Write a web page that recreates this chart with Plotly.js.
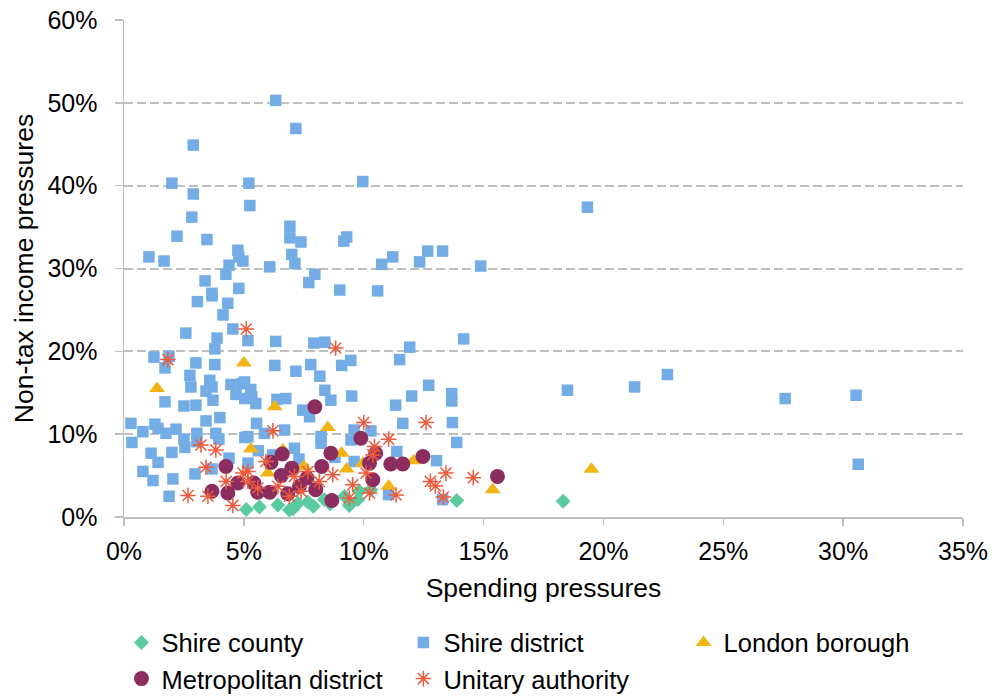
<!DOCTYPE html>
<html>
<head>
<meta charset="utf-8">
<script src="https://cdn.plot.ly/plotly-3.0.1.min.js"></script>
<style>html,body{margin:0;padding:0;background:#fff}#chart{width:995px;height:697px}</style>
</head>
<body>
<div id="chart"></div>
<script>
// Values in percent
var shireCountyX = [5.1, 5.65, 6.42, 6.9, 7.05, 7.25, 7.67, 7.9, 8.36, 8.6, 9.2, 9.4, 9.76, 9.82, 10.3, 13.88, 18.32];
var shireCountyY = [0.9, 1.2, 1.45, 0.85, 1.0, 1.65, 1.8, 1.3, 2.1, 1.6, 2.5, 1.4, 2.1, 3.1, 3.3, 2.0, 1.9];

var shireDistrictX = [6.33, 7.17, 2.89, 2.0, 5.21, 2.89, 5.25, 2.83, 6.92, 2.21, 3.46, 6.92, 7.38, 1.04, 1.67, 4.75, 4.79, 4.96, 7.0, 7.13, 4.38, 6.08, 4.25, 7.96, 7.71, 3.38, 4.79, 3.67,
  9.96, 9.29, 9.17, 11.21, 10.75, 12.33, 12.67, 13.29, 14.88, 9.0, 10.58,
  3.06, 3.67, 4.33, 4.13, 4.54, 2.58, 3.88, 3.79, 5.17, 1.25, 1.71, 3.0, 3.79, 2.75, 2.79, 3.58, 3.67, 3.42, 3.71, 1.71, 2.5, 3.0, 4.46, 4.67, 4.92, 5.04, 1.88,
  6.33, 7.92, 8.38, 6.29, 7.17, 7.79, 8.17, 9.08, 9.46, 8.38, 8.63, 9.5, 6.75, 6.38, 5.29, 5.33, 5.5, 5.03,
  11.92, 14.17, 11.5, 12.71, 12.0, 13.67, 13.67, 11.33,
  0.29, 0.79, 1.29, 1.42, 1.75, 2.17, 0.33, 2.5, 2.54, 2.0, 3.04, 3.04, 3.42, 4.0, 3.83, 3.96, 5.04, 1.13, 1.42, 0.79, 1.21, 2.04, 1.88, 2.96, 3.67, 4.38,
  7.74, 7.46, 5.17, 5.86, 6.7, 8.22, 8.22, 9.47, 9.6, 7.11, 5.53, 5.17, 9.6,
  11.63, 13.7, 13.88, 11.38, 13.04, 13.29, 11.04, 10.3, 6.2, 7.3, 8.8, 5.6,
  19.33, 18.5, 21.3, 22.67, 27.58, 30.54, 30.63];
var shireDistrictY = [50.3, 46.9, 44.9, 40.3, 40.3, 39.0, 37.6, 36.2, 35.1, 33.9, 33.5, 33.7, 33.2, 31.4, 30.9, 32.2, 31.4, 30.9, 31.7, 30.6, 30.4, 30.2, 29.3, 29.3, 28.3, 28.5, 27.6, 27.0,
  40.5, 33.8, 33.3, 31.4, 30.5, 30.8, 32.1, 32.1, 30.3, 27.4, 27.3,
  26.0, 26.7, 25.8, 24.4, 22.7, 22.2, 21.6, 20.3, 21.3, 19.3, 18.0, 18.6, 18.4, 17.1, 15.7, 16.5, 15.7, 15.2, 14.1, 13.9, 13.4, 13.5, 16.0, 14.8, 16.1, 14.3, 19.4,
  21.2, 21.0, 21.1, 18.3, 17.6, 18.4, 17.0, 18.3, 18.9, 15.3, 14.1, 14.6, 14.3, 14.2, 15.4, 14.5, 13.7, 16.3,
  20.5, 21.5, 19.0, 15.9, 14.6, 14.9, 14.0, 13.5,
  11.3, 10.3, 11.2, 10.7, 10.1, 10.6, 9.0, 9.4, 8.4, 7.8, 10.1, 9.1, 11.6, 12.0, 10.1, 9.4, 9.6, 7.7, 6.6, 5.5, 4.4, 4.6, 2.5, 5.2, 5.8, 7.1,
  12.1, 12.9, 9.7, 10.1, 10.5, 9.7, 8.9, 9.3, 10.5, 8.3, 11.3, 6.5, 6.7,
  11.3, 11.4, 9.0, 7.9, 6.8, 2.1, 2.7, 10.4, 7.5, 7.0, 7.2, 8.0,
  37.4, 15.3, 15.7, 17.2, 14.3, 14.7, 6.36];

var londonBoroughX = [1.38, 5.0, 6.29, 8.5, 5.29, 9.08, 9.29, 9.96, 7.5, 6.0, 6.63, 12.08, 11.04, 15.38, 19.5];
var londonBoroughY = [15.5, 18.6, 13.3, 10.8, 8.2, 7.7, 5.8, 6.5, 6.1, 5.3, 8.1, 6.8, 3.7, 3.3, 5.76];

var metroDistrictX = [7.96, 6.6, 6.13, 7.0, 8.25, 8.63, 9.88, 6.56, 5.42, 7.63, 8.0, 7.32, 6.08, 8.67, 10.24, 5.58, 6.83, 4.25, 3.67, 4.33, 4.75, 12.47, 11.63, 11.13, 15.58, 10.5, 10.38];
var metroDistrictY = [13.3, 7.6, 6.6, 5.9, 6.1, 7.7, 9.5, 5.0, 4.1, 4.7, 3.3, 3.7, 3.0, 2.0, 6.5, 3.0, 2.8, 6.1, 3.1, 2.9, 4.1, 7.3, 6.4, 6.4, 4.9, 7.7, 4.5];

var unitaryX = [1.83, 5.1, 8.83, 6.21, 10.0, 5.92, 5.17, 7.67, 8.71, 9.54, 7.11, 6.42, 5.58, 7.39, 8.15, 10.1, 9.4, 5.17, 6.9, 10.24, 12.6, 11.04, 13.43, 14.57, 12.78, 12.99, 13.32, 11.35, 10.45, 10.38, 3.21, 3.83, 3.42, 2.67, 3.5, 4.26, 4.54, 4.96];
var unitaryY = [19.0, 22.7, 20.4, 10.4, 11.4, 6.7, 5.5, 5.5, 5.1, 3.9, 4.9, 3.7, 3.5, 3.1, 4.3, 5.3, 2.3, 4.3, 2.5, 2.9, 11.4, 9.4, 5.3, 4.75, 4.3, 3.75, 2.4, 2.65, 8.5, 7.5, 8.7, 8.1, 6.0, 2.6, 2.5, 4.3, 1.4, 5.3];

var xTicks = [0, 5, 10, 15, 20, 25, 30, 35];
var yTicks = [0, 10, 20, 30, 40, 50, 60];

var FONT = 'Liberation Sans, Arial, sans-serif';

var traces = [
  {name: 'Shire district', x: shireDistrictX, y: shireDistrictY, type: 'scatter', mode: 'markers', legend: 'legend2',
   marker: {symbol: 'square', size: 11.5, color: '#74ADE5'}},
  {name: 'Shire county', x: shireCountyX, y: shireCountyY, type: 'scatter', mode: 'markers', legend: 'legend',
   marker: {symbol: 'diamond', size: 11.5, color: '#5BCB9F'}},
  {name: 'London borough', x: londonBoroughX, y: londonBoroughY, type: 'scatter', mode: 'markers', legend: 'legend3',
   marker: {symbol: 'triangle-up', size: 14, color: '#F2B316'}},
  {name: 'Metropolitan district', x: metroDistrictX, y: metroDistrictY, type: 'scatter', mode: 'markers', legend: 'legend',
   marker: {symbol: 'circle', size: 15, color: '#8C2D5F'}},
  {name: 'Unitary authority', x: unitaryX, y: unitaryY, type: 'scatter', mode: 'markers', legend: 'legend2',
   marker: {symbol: 'asterisk-open', size: 13, color: '#EE5A3C', line: {color: '#EE5A3C', width: 1.5}}}
];

var legendBase = {orientation: 'v', xanchor: 'left', yanchor: 'top', y: -0.206, bgcolor: 'rgba(0,0,0,0)',
  font: {family: FONT, size: 25.5, color: '#000'}, itemwidth: 30, tracegroupgap: 0};

var layout = {
  width: 995, height: 697,
  margin: {l: 124, r: 32, t: 20, b: 180, autoexpand: false},
  paper_bgcolor: '#fff', plot_bgcolor: '#fff',
  font: {family: FONT, color: '#000'},
  xaxis: {
    range: [0, 35], tickvals: xTicks, ticktext: xTicks.map(function(v){return v + '%';}),
    showgrid: false, zeroline: false, showline: true, linecolor: '#BFBFBF', linewidth: 1.5,
    ticks: 'outside', ticklen: 7, tickcolor: '#BFBFBF', tickwidth: 1.5, ticklabelstandoff: 4,
    tickfont: {family: FONT, size: 25, color: '#000'}, automargin: false,
    title: {text: 'Spending pressures', font: {family: FONT, size: 26.5, color: '#000'}, standoff: 15}
  },
  yaxis: {
    range: [0, 60], tickvals: yTicks, ticktext: yTicks.map(function(v){return v + '%';}),
    showgrid: true, gridcolor: '#BFBFBF', gridwidth: 2, griddash: '9px,4px',
    zeroline: false, showline: true, linecolor: '#BFBFBF', linewidth: 1.5,
    ticks: 'outside', ticklen: 8, tickcolor: '#BFBFBF', tickwidth: 1.5, ticklabelstandoff: 12,
    tickfont: {family: FONT, size: 25, color: '#000'}, automargin: false,
    title: {text: 'Non-tax income pressures', font: {family: FONT, size: 26.5, color: '#000'}, standoff: 6}
  },
  legend: Object.assign({}, legendBase, {x: -0.003}),
  legend2: Object.assign({}, legendBase, {x: 0.333}),
  legend3: Object.assign({}, legendBase, {x: 0.667}),
  showlegend: true
};

Plotly.newPlot('chart', traces, layout, {displayModeBar: false, staticPlot: true});
</script>
</body>
</html>
